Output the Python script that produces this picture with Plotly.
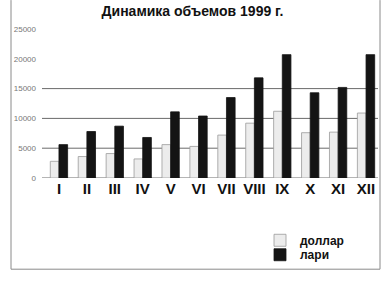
import plotly.graph_objects as go

months = ["I", "II", "III", "IV", "V", "VI", "VII", "VIII", "IX", "X", "XI", "XII"]
dollar = [2800, 3600, 4100, 3200, 5600, 5300, 7200, 9200, 11200, 7600, 7700, 10900]
lari = [5600, 7800, 8700, 6800, 11100, 10400, 13500, 16800, 20700, 14300, 15200, 20700]
y_ticks = [0, 5000, 10000, 15000, 20000, 25000]
grid_values = [0, 5000, 10000, 15000]

FONT = "Liberation Sans, Arial, sans-serif"

L, R, T, B = 45, 4, 29, 102.5
W, H = 384, 281
pw = W - L - R
ph = H - T - B


def py(ypx):
    return (T + ph - ypx) / ph


def px(xpx):
    return (xpx - L) / pw


fig = go.Figure()
fig.add_trace(go.Bar(x=months, y=dollar, name="доллар", legend="legend",
                     marker=dict(color="#ececec", line=dict(color="#9a9a9a", width=0.8))))
fig.add_trace(go.Bar(x=months, y=lari, name="лари", legend="legend2",
                     marker=dict(color="#141414", line=dict(color="#141414", width=0.8))))

shapes = []
for g in grid_values:
    shapes.append(dict(type="line", xref="paper", yref="y",
                       x0=px(42), x1=px(378), y0=g, y1=g,
                       line=dict(color="#6a6a6a", width=1), layer="below"))
# outer frame
bx0, bx1 = px(11), px(380)
by0, by1 = py(270), py(0)
for s in [dict(x0=bx0, x1=bx0, y0=by0, y1=by1),
          dict(x0=bx1, x1=bx1, y0=by0, y1=by1),
          dict(x0=bx0, x1=bx1, y0=by0, y1=by0)]:
    shapes.append(dict(type="line", xref="paper", yref="paper",
                       line=dict(color="#8a8a8a", width=1), **s))

legend_common = dict(xanchor="left", yanchor="middle",
                     font=dict(family=FONT, size=12, color="#111", weight="bold"),
                     bgcolor="rgba(0,0,0,0)", itemwidth=30, borderwidth=0)

fig.update_layout(
    width=W, height=H,
    margin=dict(l=L, r=R, t=T, b=B, autoexpand=False),
    paper_bgcolor="white", plot_bgcolor="white",
    title=dict(text="<b>Динамика объемов 1999 г.</b>", x=192.5 / W, xanchor="center",
               y=1 - 11 / H, yanchor="middle",
               font=dict(family=FONT, size=14, color="#111")),
    barmode="group", bargap=0.38, bargroupgap=0.0,
    showlegend=True,
    legend=dict(x=px(260), y=py(241), **legend_common),
    legend2=dict(x=px(260), y=py(255.5), **legend_common),
    xaxis=dict(showgrid=False, showline=False, zeroline=False, ticks="",
               tickfont=dict(family=FONT, size=15, color="#111", weight="bold"),
               range=[-0.5, 11.5]),
    yaxis=dict(range=[0, 25000], tickvals=y_ticks, ticktext=[str(v) for v in y_ticks],
               showgrid=False, zeroline=False, showline=False, ticks="",
               tickfont=dict(family=FONT, size=8, color="#777"), ticklabelstandoff=8),
    shapes=shapes,
    font=dict(family=FONT),
)

fig.write_html("out.html", config={"displayModeBar": False},
               post_script="document.body.style.margin='0';")
